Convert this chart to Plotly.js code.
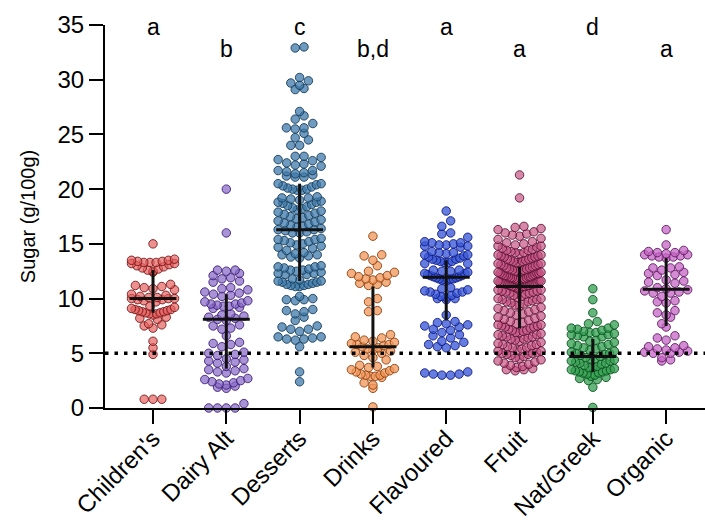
<!DOCTYPE html>
<html>
<head>
<meta charset="utf-8">
<script src="https://cdn.plot.ly/plotly-3.0.1.min.js"></script>
<style>html,body{margin:0;padding:0;background:#fff;}#chart{width:705px;height:525px;}</style>
</head>
<body>
<div id="chart"></div>
<script>
// ---- data ----
const categories = ["Children's", "Dairy Alt", "Desserts", "Drinks", "Flavoured", "Fruit", "Nat/Greek", "Organic"];
const letters = ["a", "b", "c", "b,d", "a", "a", "d", "a"];

const childrens = [15.0, 13.6,13.5,13.5,13.4,13.4,13.3,13.3,13.3,13.2,13.2,13.1,13.0,12.9,12.8,12.7,12.6,12.5,12.4,
  11.3,11.2,11.1,11.0,10.9,10.8,
  10.4,10.3,10.2,10.1,10.1,10.0,10.0,10.0,9.9,9.9,9.8,9.7,
  9.3,9.2,9.1,9.0,9.0,8.9,8.9,8.8,8.8,8.7,8.7,8.6,8.6,8.5,
  8.3,8.2,8.1, 7.7,7.6,7.5, 7.3,6.1,5.5,4.9, 0.8,0.8,0.8];

const dairyAlt = [20.0, 16.0, 12.6,12.6,12.5,12.3,12.1,11.9,11.8,11.6,11.5,
  11.0,10.9,10.8,10.6,10.5,10.4,10.3,10.2,
  9.8,9.7,9.6,9.5,9.5,9.4,9.3,9.3,9.2,9.1,
  8.6,8.5,8.4,8.3,8.2,8.1,8.0, 7.6,7.5,7.3,7.2, 6.6,
  6.0,5.9,5.8,5.6, 5.1,5.0,4.9,4.8, 4.5,4.4,4.3,4.2,4.1,
  3.8,3.6,3.5,3.4,3.3,3.2,
  2.7,2.6,2.5,2.4,2.3,2.2,2.1,2.0,1.9,1.8, 0.4, 0,0,0,0];

const desserts = [33.0,32.9,
  30.2,29.9,29.7,29.5,29.2,29.1,
  27.1,26.7,26.4,26.0,25.6,25.6,25.5,25.1,24.7,24.5,24.0,24.0,
  23.0,23.0,22.9,22.7,22.6,22.4,22.3,22.2,22.1,
  21.7,21.7,21.6,21.5,21.4,21.3,21.2,21.1,21.1,
  20.5,20.5,20.4,20.3,20.2,20.1,20.0,20.0,19.9,19.9,
  19.3,19.2,19.2,19.1,19.0,18.9,18.8,18.8,18.7,18.6,18.5,18.4,
  18.3,18.2,18.1,18.0,17.9,17.8,17.7,17.6,17.5,17.4,17.3,17.2,
  17.1,17.0,16.9,16.8,16.7,16.6,16.5,16.4,16.3,16.3,16.2,16.1,16.0,16.0,
  15.5,15.4,15.4,15.3,15.2,15.1,15.0,14.9,14.8,14.7,14.6,14.4,14.2,
  14.1,14.0,14.0,13.9,13.8,13.7,
  13.0,12.9,12.9,12.8,12.7,12.6,12.6,12.5,12.4,12.3,12.3,12.2,12.2,
  11.8,11.7,11.6,11.6,11.5,11.5,11.4,11.3,11.3,11.2,11.2,11.1,11.1,
  10.2,10.0,9.9,9.9,9.8,
  9.0,8.9,8.8,8.6,8.3,
  8.0,7.5,7.4,7.2,7.2,7.0,6.5,6.5,6.4,6.3,6.3,6.2,5.6,
  3.3,2.4];

const drinks = [15.7, 14.0,13.9,13.5,13.0,
  12.5,12.4,12.3,12.1,12.0,11.9,11.8,11.7,11.5,11.4,11.3,11.2,
  10.0,9.7, 8.9,8.8,
  6.7,6.5,6.4,6.2,6.1,6.0,5.9,5.8,5.8,5.7,5.6,5.5,5.4,5.3,5.2,5.1,5.0,4.8,4.6,4.4,
  3.9,3.8,3.7,3.6,3.5,3.4,3.3,3.2,3.1,3.0,3.0,2.9,
  2.9,2.8,2.3,2.1,1.8, 0.1];

const flavoured = [18.0, 17.1,16.6,16.0,15.9,15.6,
  15.2,15.1,15.1,15.0,14.9,14.9,14.8,14.8,14.7,
  14.3,14.2,14.2,14.1,14.0,14.0,13.9,13.8,13.7,13.6,13.6,13.5,13.4,13.4,13.3,13.3,13.2,13.2,
  12.6,12.6,12.5,12.5,12.4,12.3,12.3,12.2,12.1,12.1,12.0,12.0,11.9,11.9,11.8,11.8,11.8,11.7,11.7,11.7,
  11.0,10.9,10.8,10.7,10.6,10.6,10.5,10.4,10.3,10.2,10.1,10.0,10.0,9.9,
  8.5,
  7.9,7.8,7.7,7.6,7.5,7.4,7.2,7.1,6.9,6.7,6.6,6.4,
  6.1,6.0,5.8,5.7,5.6,5.5,
  3.3,3.2,3.1,3.1,3.0,3.0];

const fruit = [21.3, 19.2,
  16.6,16.5,16.4,16.3,16.1,16.0,
  15.9,15.8,15.7,15.5,15.4,15.2,15.1,15.0,
  14.9,14.8,14.8,14.7,14.6,14.5,14.4,14.4,14.3,14.2,14.2,14.1,14.0,14.0,
  13.9,13.9,13.8,13.8,13.7,13.6,13.6,13.5,13.5,13.4,13.4,13.3,13.3,13.2,13.2,13.1,13.1,13.0,13.0,12.9,
  12.8,12.8,12.7,12.7,12.6,12.6,12.5,12.5,12.5,12.4,12.4,12.3,12.3,12.3,12.2,12.2,12.1,12.1,12.1,12.0,12.0,12.0,11.9,11.9,11.9,
  11.8,11.8,11.8,11.7,11.7,11.7,11.6,11.6,11.6,11.5,11.5,11.5,11.4,11.4,11.4,11.3,11.3,11.3,11.2,11.2,11.2,11.1,11.1,11.1,11.1,
  11.0,11.0,10.9,10.9,10.8,10.8,10.7,10.7,10.6,10.6,10.5,10.5,
  10.4,10.3,10.2,10.1,10.0,10.0,9.9,9.9,9.8,9.7,9.7,9.6,
  9.5,9.4,9.3,9.2,9.1,9.0,8.9,8.8,8.7,8.6,8.5,8.4,8.3,
  8.2,8.1,8.0,7.9,7.8,7.7,7.6,7.6,7.5,7.5,7.4,7.4,7.3,
  7.2,7.1,7.1,7.0,6.9,6.9,6.8,6.7,6.7,6.6,6.5,6.5,6.4,6.3,6.3,6.2,6.1,6.0,
  5.9,5.8,5.8,5.7,5.6,5.5,5.5,5.4,5.3,5.2,5.2,5.1,5.0,5.0,4.9,4.9,4.8,
  4.7,4.6,4.5,4.4,4.3,4.2,4.1,4.0,3.9,
  3.8,3.7,3.6,3.5,3.5,3.4];

const natGreek = [10.9, 9.9, 8.7, 7.9,7.7,7.6,7.3,
  7.3,7.2,7.1,7.0,6.9,6.9,6.8,6.7,6.7,6.6,6.5,6.5,
  6.2,6.1,6.0,5.9,5.8,5.7,5.6,5.5,5.4,5.3,5.2,5.1,5.0,5.0,
  4.9,4.8,4.7,4.6,4.5,4.5,4.4,4.3,4.3,4.2,4.1,4.1,
  4.0,3.9,3.8,3.7,3.7,3.6,3.5,3.5,3.4,3.4,3.3,3.3,3.2,3.2,
  3.1,3.0,2.9,2.8,2.7,2.6, 2.5, 1.9, 0.05];

const organic = [16.3, 14.9,
  14.4,14.3,14.2,14.2,14.1,14.0,14.0,13.9,13.9,13.8,13.8,13.7,
  12.9,12.8,12.8,12.6,12.4,12.3,12.2,12.1,
  11.7,11.6,11.5,11.4,
  11.0,10.9,10.8,10.7,10.6,10.5,10.5,
  10.2,9.8,9.7,9.6,
  8.9,8.7,8.5,8.3,7.7,7.4,
  6.6,6.4,6.2,
  5.7,5.6,5.5,5.4,5.3,5.2,5.1,5.1,5.0,5.0,
  4.6,4.4,4.3];

const seriesValues = [childrens, dairyAlt, desserts, drinks, flavoured, fruit, natGreek, organic];

// median and interquartile range as drawn
const medians = [10.0, 8.1, 16.3, 5.6, 11.95, 11.1, 4.7, 10.85];
const q1s     = [8.7, 3.6, 11.6, 3.7, 8.0, 7.3, 3.3, 7.5];
const q3s     = [12.6, 10.4, 20.5, 11.1, 13.5, 12.9, 6.3, 13.7];
const cutoff = 5;

// ---- styles ----
const fills = ['rgba(228,92,92,0.68)','rgba(136,104,198,0.72)','rgba(62,122,170,0.75)','rgba(242,150,88,0.75)',
               'rgba(58,88,215,0.78)','rgba(196,80,128,0.68)','rgba(48,158,78,0.75)','rgba(196,100,196,0.75)'];
const edges = ['rgba(115,18,18,0.85)','rgba(55,25,115,0.85)','rgba(20,58,88,0.88)','rgba(140,62,10,0.88)',
               'rgba(15,25,130,0.88)','rgba(90,15,50,0.85)','rgba(8,80,28,0.88)','rgba(95,25,95,0.88)'];

// beeswarm layout (pixel-based spacing converted to axis units)
const PX_X = 73.3, PX_Y = 10.94;
const DOT = 8.8, MAXHALF = 21.5;
function swarm(vals, idx) {
  const binH = DOT / PX_Y;
  const dx = DOT / PX_X, maxHalf = MAXHALF / PX_X;
  const bins = {};
  vals.forEach(v => { const b = Math.floor(v / binH + 0.5); (bins[b] = bins[b] || []).push(v); });
  const xs = [], ys = [];
  Object.keys(bins).forEach(k => {
    const arr = bins[k].slice().sort((a, b) => a - b);
    const n = arr.length;
    const s = n > 1 ? Math.min(dx, 2 * maxHalf / (n - 1)) : 0;
    arr.forEach((v, j) => {
      let p;
      if (n % 2 === 1) { p = j === 0 ? 0 : Math.ceil(j / 2) * (j % 2 ? -1 : 1); }
      else { p = (Math.floor(j / 2) + 0.5) * (j % 2 ? 1 : -1); }
      xs.push(idx + p * s); ys.push(v);
    });
  });
  return {xs, ys};
}

const traces = [];
seriesValues.forEach((vals, i) => {
  const sw = swarm(vals, i);
  traces.push({
    type: 'scatter', mode: 'markers', x: sw.xs, y: sw.ys, cliponaxis: false, hoverinfo: 'y',
    marker: {size: 8.5, color: fills[i], line: {color: edges[i], width: 1}}, showlegend: false
  });
});
traces.push({
  type: 'scatter', mode: 'markers', x: categories.map((c, i) => i), y: medians, cliponaxis: false,
  marker: {size: 1, color: 'rgba(0,0,0,0)'}, showlegend: false, hoverinfo: 'y',
  error_y: {type: 'data', symmetric: false, array: medians.map((m, i) => q3s[i] - m),
            arrayminus: medians.map((m, i) => m - q1s[i]), width: 0, thickness: 3, color: '#111'},
  error_x: {type: 'constant', value: 0.32, width: 0, thickness: 3, color: '#111'}
});

const annotations = letters.map((t, i) => ({
  x: i, y: i % 2 === 0 ? 34.8 : 32.8, xref: 'x', yref: 'y', text: t, showarrow: false,
  font: {size: 23, color: '#000'}, xanchor: 'center', yanchor: 'middle'
}));

const layout = {
  width: 705, height: 525,
  margin: {l: 105, r: 0, t: 25, b: 117},
  paper_bgcolor: '#fff', plot_bgcolor: '#fff',
  font: {family: 'Liberation Sans, Arial, sans-serif', color: '#000'},
  showlegend: false,
  xaxis: {
    range: [-0.655, 7.53], tickmode: 'array', tickvals: categories.map((c, i) => i), ticktext: categories,
    tickangle: -45, tickfont: {size: 24}, ticks: 'outside', ticklen: 14, tickwidth: 2, tickcolor: '#000',
    ticklabelstandoff: -9,
    showline: true, linewidth: 2, linecolor: '#000', showgrid: false, zeroline: false
  },
  yaxis: {
    range: [0, 35], tickvals: [0,5,10,15,20,25,30,35], tickfont: {size: 24},
    ticks: 'outside', ticklen: 14, tickwidth: 2, tickcolor: '#000',
    showline: true, linewidth: 2, linecolor: '#000', showgrid: false, zeroline: false,
    title: {text: 'Sugar (g/100g)', font: {size: 20}, standoff: 16}
  },
  shapes: [{type: 'line', xref: 'paper', x0: 0, x1: 1, yref: 'y', y0: cutoff, y1: cutoff,
            line: {color: '#000', width: 3.5, dash: '3.5px,6px'}, layer: 'above'}],
  annotations: annotations
};

Plotly.newPlot('chart', traces, layout, {staticPlot: true, displayModeBar: false});
</script>
</body>
</html>
